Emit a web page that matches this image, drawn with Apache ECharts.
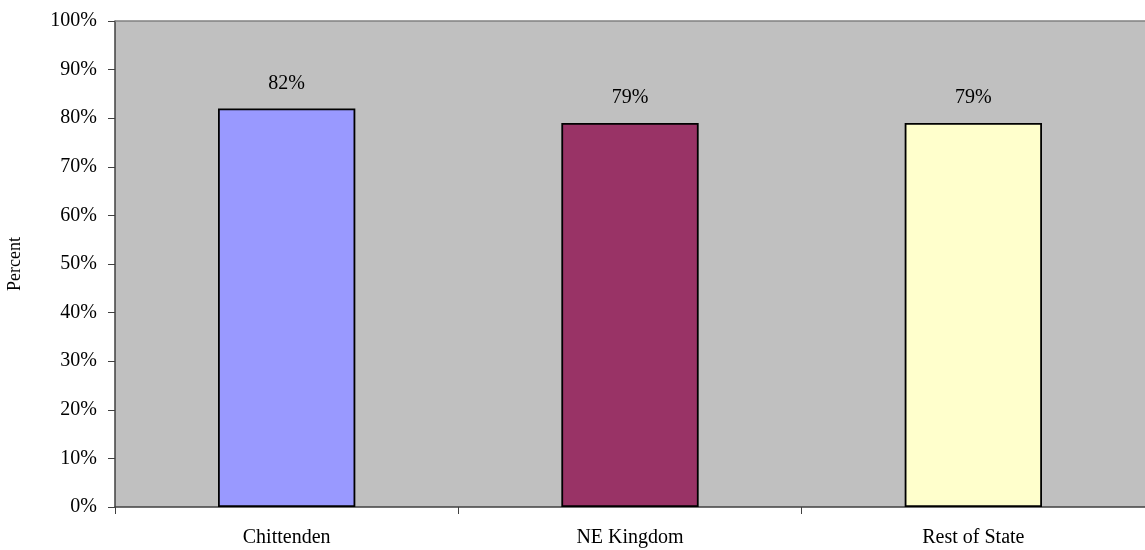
<!DOCTYPE html>
<html>
<head>
<meta charset="utf-8">
<script src="https://cdn.jsdelivr.net/npm/echarts@6/dist/echarts.min.js"></script>
<style>
  html, body { margin: 0; padding: 0; background: #ffffff; }
  #chart { width: 1145px; height: 550px; }
</style>
</head>
<body>
<div id="chart"></div>
<script>
// Regions and their percentages
const regions = ['Chittenden', 'NE Kingdom', 'Rest of State'];
const percents = [82, 79, 79];
const barColors = ['#9999FF', '#993366', '#FFFFCC'];

const chart = echarts.init(document.getElementById('chart'));
const serif = '"Liberation Serif", "DejaVu Serif", serif';

chart.setOption({
  animation: false,
  grid: {
    left: 115, right: 0, top: 21, bottom: 43,
    outerBoundsMode: 'none',
    containLabel: false,
    show: true,
    backgroundColor: '#C0C0C0',
    borderWidth: 0
  },
  xAxis: {
    type: 'category',
    data: regions,
    axisLine: { show: true, lineStyle: { color: '#404040', width: 1.5 } },
    axisTick: { show: true, length: 7, lineStyle: { color: '#404040' } },
    axisLabel: { color: '#000', fontFamily: serif, fontSize: 20, margin: 21 },
    splitLine: { show: false }
  },
  yAxis: {
    type: 'value',
    min: 0, max: 100, interval: 10,
    name: 'Percent',
    nameLocation: 'middle',
    nameGap: 91,
    nameRotate: 90,
    nameTextStyle: { color: '#000', fontFamily: serif, fontSize: 18 },
    axisLine: { show: true, lineStyle: { color: '#404040', width: 1.5 } },
    axisTick: { show: true, length: 7, lineStyle: { color: '#404040' } },
    axisLabel: { color: '#000', fontFamily: serif, fontSize: 20, margin: 18, formatter: '{value}%' },
    splitLine: { show: false }
  },
  series: [{
    type: 'bar',
    data: percents.map((v, i) => ({
      value: v,
      itemStyle: { color: barColors[i], borderColor: '#000', borderWidth: 1.8 }
    })),
    barWidth: '40%',
    label: {
      show: true,
      position: 'top',
      distance: 15,
      formatter: '{c}%',
      color: '#000',
      fontFamily: serif,
      fontSize: 20
    }
  }],
  graphic: [{
    // Gray border along the top of the plot area
    type: 'line',
    shape: { x1: 115, y1: 21, x2: 1145, y2: 21 },
    style: { stroke: '#808080', lineWidth: 1.5 },
    z: 10
  }]
});
</script>
</body>
</html>
